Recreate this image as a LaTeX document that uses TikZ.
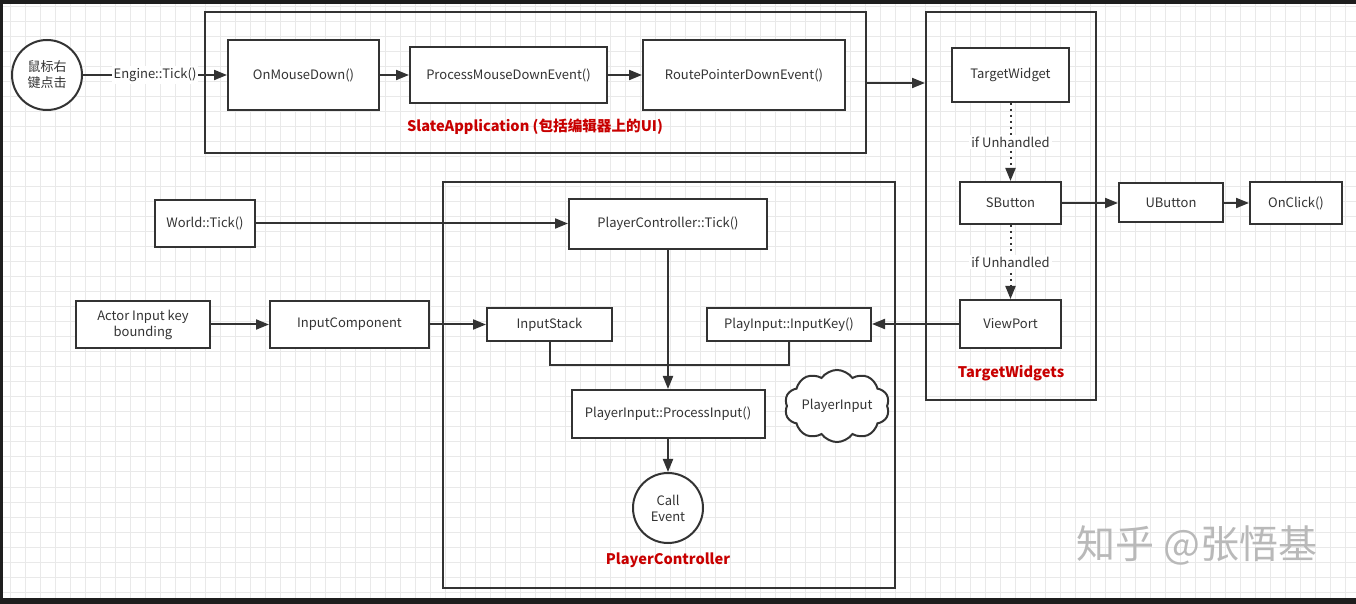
\documentclass[tikz,border=0pt]{standalone}
\usepackage{fontspec}
\setmainfont{Noto Sans CJK SC}
\usetikzlibrary{arrows.meta,shapes.symbols}
\definecolor{ln}{HTML}{333333}
\definecolor{txt}{HTML}{333333}
\definecolor{redlbl}{HTML}{C80000}
\definecolor{gridc}{HTML}{E9E9E9}
\definecolor{barc}{HTML}{1E1E1E}
\begin{document}
\begin{tikzpicture}[x=0.5pt,y=-0.5pt,
  every node/.style={font=\fontsize{6.5}{8}\selectfont, text=txt, align=center},
  box/.style={draw=ln, line width=1pt, fill=white, inner sep=0pt},
  framebox/.style={draw=ln, line width=1pt, inner sep=0pt},
  circ/.style={draw=ln, line width=1pt, fill=white, circle, inner sep=0pt, minimum size=35pt},
  arr/.style={draw=ln, line width=1pt, -{Triangle[length=6.5pt,width=5pt]}},
  dotarr/.style={draw=ln, line width=1pt, dotted, -{Triangle[length=6.5pt,width=5pt]}},
  conn/.style={draw=ln, line width=1pt},
  redlabel/.style={font=\fontsize{7.3}{8}\selectfont\bfseries, text=redlbl},
  lbl/.style={fill=white, inner sep=1pt}
]
% background and grid
\fill[white] (0,0) rectangle (1356,604);
\useasboundingbox (0,0) rectangle (1356,604);
\foreach \x in {10,25,...,1356} \draw[gridc, line width=0.5pt] (\x,0) -- (\x,604);
\foreach \y in {7,22,...,604} \draw[gridc, line width=0.5pt] (0,\y) -- (1356,\y);
% screen edges
\fill[barc] (0,0) rectangle (1356,4);
\fill[barc] (0,0) rectangle (3,604);
\fill[barc] (0,598) rectangle (1356,604);

% frames
\node[framebox, minimum width=330.5pt, minimum height=70.5pt] (slate) at (535.5,82.5) {};
\node[framebox, minimum width=85pt, minimum height=194pt] (twf) at (1011,206) {};
\node[framebox, minimum width=226pt, minimum height=203pt] (pcf) at (669,385) {};

% frame labels
\node[redlabel] (slatelbl) at (535,127) {SlateApplication (包括编辑器上的UI)};
\node[redlabel] (twlbl) at (1011,373) {TargetWidgets};
\node[redlabel] (pclbl) at (668,560) {PlayerController};

% top row
\node[circ] (mouse) at (47,75) {鼠标右\\键点击};
\node[box, minimum width=75.5pt, minimum height=35pt] (omd) at (303.5,75) {OnMouseDown()};
\node[box, minimum width=98.5pt, minimum height=28pt] (pmd) at (508.5,75) {ProcessMouseDownEvent()};
\node[box, minimum width=101pt, minimum height=35pt] (rpd) at (744,75) {RoutePointerDownEvent()};

% target widgets
\node[box, minimum width=58.5pt, minimum height=27pt] (tw) at (1010.5,75) {TargetWidget};
\node[box, minimum width=50.5pt, minimum height=21pt] (sbtn) at (1010.5,203) {SButton};
\node[box, minimum width=50.5pt, minimum height=24pt] (vp) at (1010.5,324) {ViewPort};
\node[box, minimum width=52pt, minimum height=19.5pt] (ubtn) at (1171,203) {UButton};
\node[box, minimum width=46pt, minimum height=21pt] (onclick) at (1296,203) {OnClick()};

% left
\node[box, minimum width=50pt, minimum height=23.5pt] (world) at (205,223.5) {World::Tick()};
\node[box, minimum width=67pt, minimum height=23.5pt] (actor) at (143,324.5) {Actor Input key\\bounding};
\node[box, minimum width=79.5pt, minimum height=23.5pt] (icomp) at (349.5,324.5) {InputComponent};

% player controller
\node[box, minimum width=99pt, minimum height=25pt] (pctick) at (668,224) {PlayerController::Tick()};
\node[box, minimum width=62.5pt, minimum height=16.5pt] (istack) at (549.5,324.5) {InputStack};
\node[box, minimum width=82pt, minimum height=16.5pt] (ikey) at (789,324.5) {PlayInput::InputKey()};
\node[box, minimum width=96.5pt, minimum height=24pt] (pinput) at (668,414) {PlayerInput::ProcessInput()};
\node[draw=ln, line width=1pt, fill=white, cloud, cloud puffs=10, cloud puff arc=110, aspect=1.7, inner sep=0pt,
      minimum width=47pt, minimum height=28pt] (cloudn) at (837,406) {PlayerInput};
\node[circ] (callev) at (668,508) {Call\\Event};

% connectors
\draw[arr] (mouse) -- node[lbl] {Engine::Tick()} (omd);
\draw[arr] (omd) -- (pmd);
\draw[arr] (pmd) -- (rpd);
\draw[arr] (slate.east |- 0,83) -- (twf.west |- 0,83);
\draw[dotarr] (tw) -- node[lbl, pos=0.5] {if Unhandled} (sbtn);
\draw[dotarr] (sbtn) -- node[lbl, pos=0.5] {if Unhandled} (vp);
\draw[arr] (sbtn) -- (ubtn);
\draw[arr] (ubtn) -- (onclick);
\draw[arr] (world.east) -- (world.east -| pctick.west);
\draw[arr] (actor) -- (icomp);
\draw[arr] (icomp) -- (istack);
\draw[arr] (vp.west) -- (vp.west -| ikey.east);
\draw[conn] (istack.south) -- (istack.south |- 0,365) -- (ikey.south |- 0,365) -- (ikey.south);
\draw[arr] (pctick.south) -- (pinput.north);
\draw[arr] (pinput) -- (callev);

% watermark
\node[font=\fontsize{19.5}{21}\selectfont, text=gray!55] (wm) at (1197,545) {知乎 @张悟基};
\end{tikzpicture}
\end{document}
